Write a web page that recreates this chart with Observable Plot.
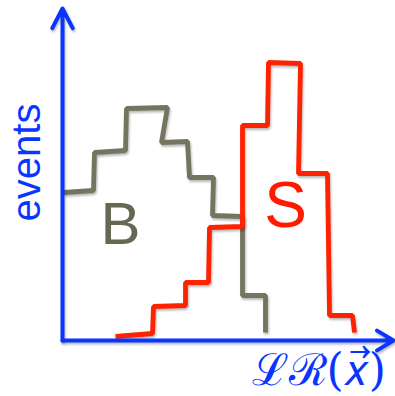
<!DOCTYPE html>
<html><head><meta charset="utf-8">
<script src="https://cdn.jsdelivr.net/npm/d3@7"></script>
<script src="https://cdn.jsdelivr.net/npm/@observablehq/plot@0.6"></script>
<style>
html,body{margin:0;padding:0;background:#fff;}
.shadow path{filter:drop-shadow(1px 2px 1.2px rgba(0,0,0,0.28));}
</style>
</head><body>
<div id="chart"></div>
<script>
// Background histogram (B): step outline vertices (LR value, events)
const bX = [1, 31, 32, 63, 64, 105, 99, 125, 127, 151, 150, 180, 180, 203, 203];
const bY = [148, 150, 188, 190, 232, 233, 198, 199, 163, 163, 125, 124, 45, 45, 8];
// Signal histogram (S)
const sX = [53, 90, 91, 123, 123, 146, 147, 180, 180, 205, 206, 238, 236, 265, 267, 290, 292];
const sY = [4, 7, 34, 35, 58, 58, 113, 114, 215, 215, 278, 277, 167, 167, 25, 25, 8];
const labels = [
  {t: "B", x: 58, y: 97, c: "#676752", s: 60},
  {t: "S", x: 223, y: 114, c: "#ff1a00", s: 64}
];
const yLabel = "events";
const xLabel = "ℒℛ(𝑥⃗)";

const B = bX.map((x, i) => ({x, y: bY[i]}));
const S = sX.map((x, i) => ({x, y: sY[i]}));
const blue = "#0a35ff";

const chart = Plot.plot({
  width: 395, height: 396,
  marginLeft: 62, marginRight: 0, marginTop: 0, marginBottom: 56,
  x: {domain: [0, 333], axis: null},
  y: {domain: [0, 340], axis: null},
  style: {background: "#fff", overflow: "visible"},
  marks: [
    Plot.line(B, {x: "x", y: "y", stroke: "#74745f", strokeWidth: 4.8, strokeLinejoin: "miter", strokeLinecap: "butt", className: "shadow"}),
    Plot.line(S, {x: "x", y: "y", stroke: "#ff2200", strokeWidth: 4.8, strokeLinejoin: "miter", strokeLinecap: "butt", className: "shadow"}),
    Plot.arrow([{x1: 0, y1: 0, x2: 0, y2: 332}], {x1: "x1", y1: "y1", x2: "x2", y2: "y2", stroke: blue, strokeWidth: 4, headLength: 8.3, headAngle: 55, className: "shadow"}),
    Plot.arrow([{x1: 0, y1: 0, x2: 331, y2: 0}], {x1: "x1", y1: "y1", x2: "x2", y2: "y2", stroke: blue, strokeWidth: 4, headLength: 7.2, headAngle: 62, className: "shadow"}),
    Plot.text(labels, {x: "x", y: "y", text: "t", fill: "c", fontSize: d => d.s, textAnchor: "middle", lineAnchor: "bottom", fontFamily: "Liberation Sans, Arial, sans-serif"}),
    Plot.text([yLabel], {x: -35, y: 178, text: d => d, fill: blue, fontSize: 40, rotate: -90, textAnchor: "middle", lineAnchor: "middle", fontFamily: "Liberation Sans, Arial, sans-serif"}),
    Plot.text([xLabel], {x: 189, y: -44, text: d => d, fill: blue, fontSize: 44, textAnchor: "start", lineAnchor: "bottom", fontFamily: "DejaVu Serif, serif"})
  ]
});
document.getElementById("chart").appendChild(chart);
</script>
</body></html>
